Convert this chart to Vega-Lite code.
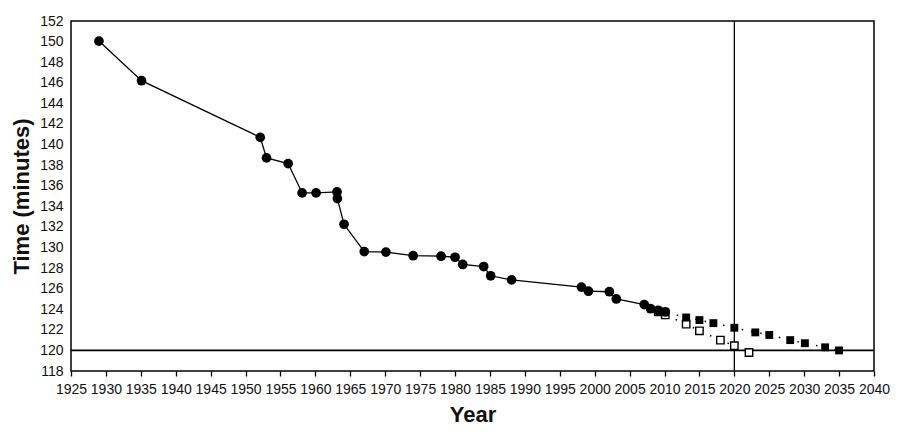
{
  "$schema": "https://vega.github.io/schema/vega-lite/v6.json",
  "width": 803,
  "height": 350,
  "autosize": {"type": "none"},
  "padding": {"left": 71, "top": 21, "right": 26, "bottom": 66},
  "background": "white",
  "datasets": {
    "record": [
      {"year": 1929.0, "time": 150.05},
      {"year": 1935.1, "time": 146.2},
      {"year": 1952.1, "time": 140.7},
      {"year": 1953.0, "time": 138.7},
      {"year": 1956.1, "time": 138.15},
      {"year": 1958.1, "time": 135.3},
      {"year": 1960.1, "time": 135.3},
      {"year": 1963.1, "time": 135.4},
      {"year": 1963.15, "time": 134.75},
      {"year": 1964.1, "time": 132.25},
      {"year": 1967.0, "time": 129.6},
      {"year": 1970.1, "time": 129.55},
      {"year": 1974.0, "time": 129.2},
      {"year": 1978.0, "time": 129.15},
      {"year": 1980.0, "time": 129.05},
      {"year": 1981.1, "time": 128.35},
      {"year": 1984.1, "time": 128.15},
      {"year": 1985.1, "time": 127.25},
      {"year": 1988.1, "time": 126.85},
      {"year": 1998.1, "time": 126.15},
      {"year": 1999.1, "time": 125.75},
      {"year": 2002.1, "time": 125.7},
      {"year": 2003.1, "time": 125.0},
      {"year": 2007.1, "time": 124.45},
      {"year": 2008.0, "time": 124.05},
      {"year": 2009.1, "time": 123.9},
      {"year": 2010.1, "time": 123.75}
    ],
    "projFilled": [
      {"year": 2009.1, "time": 123.85},
      {"year": 2010.1, "time": 123.7},
      {"year": 2013.1, "time": 123.2},
      {"year": 2015.0, "time": 122.95},
      {"year": 2017.0, "time": 122.65},
      {"year": 2020.0, "time": 122.2},
      {"year": 2023.0, "time": 121.75},
      {"year": 2025.0, "time": 121.5},
      {"year": 2028.0, "time": 121.0},
      {"year": 2030.1, "time": 120.7},
      {"year": 2033.0, "time": 120.3},
      {"year": 2035.0, "time": 120.0}
    ],
    "projOpen": [
      {"year": 2009.1, "time": 123.75},
      {"year": 2010.1, "time": 123.45},
      {"year": 2013.1, "time": 122.55},
      {"year": 2015.0, "time": 121.9},
      {"year": 2018.0, "time": 121.0},
      {"year": 2020.0, "time": 120.45},
      {"year": 2022.1, "time": 119.8}
    ],
    "refs": [
      {"year": 2020, "time": 120}
    ]
  },
  "encoding": {
    "x": {
      "field": "year",
      "type": "quantitative",
      "scale": {"domain": [1925, 2040], "nice": false, "zero": false},
      "axis": {
        "title": "Year",
        "values": [1925, 1930, 1935, 1940, 1945, 1950, 1955, 1960, 1965, 1970, 1975, 1980, 1985, 1990, 1995, 2000, 2005, 2010, 2015, 2020, 2025, 2030, 2035, 2040],
        "format": "d",
        "grid": false,
        "labelOverlap": false,
        "labelBound": false,
        "labelFlush": false,
        "tickSize": 5,
        "labelPadding": 6,
        "titlePadding": 8
      }
    },
    "y": {
      "field": "time",
      "type": "quantitative",
      "scale": {"domain": [118, 152], "nice": false, "zero": false},
      "axis": {
        "title": "Time (minutes)",
        "values": [118, 120, 122, 124, 126, 128, 130, 132, 134, 136, 138, 140, 142, 144, 146, 148, 150, 152],
        "grid": false,
        "labelOverlap": false,
        "tickSize": 0,
        "labelPadding": 8,
        "titlePadding": 6
      }
    }
  },
  "layer": [
    {
      "data": {"name": "refs"},
      "mark": {"type": "rule", "color": "black", "strokeWidth": 1.6},
      "encoding": {"x": {"value": 0}, "x2": {"value": 803}}
    },
    {
      "data": {"name": "refs"},
      "mark": {"type": "rule", "color": "black", "strokeWidth": 1.3},
      "encoding": {"y": {"value": 0}, "y2": {"value": 350}}
    },
    {
      "data": {"name": "projFilled"},
      "mark": {"type": "line", "color": "black", "strokeWidth": 1.5, "strokeDash": [1.5, 8]},
      "encoding": {}
    },
    {
      "data": {"name": "projOpen"},
      "mark": {"type": "line", "color": "black", "strokeWidth": 1.5, "strokeDash": [1.5, 8]},
      "encoding": {}
    },
    {
      "data": {"name": "record"},
      "mark": {"type": "line", "color": "black", "strokeWidth": 1.3},
      "encoding": {}
    },
    {
      "data": {"name": "projOpen"},
      "mark": {"type": "point", "shape": "square", "size": 55, "filled": true, "fill": "white", "stroke": "black", "strokeWidth": 1.4, "opacity": 1},
      "encoding": {}
    },
    {
      "data": {"name": "projFilled"},
      "mark": {"type": "point", "shape": "square", "size": 62, "filled": true, "color": "black", "opacity": 1},
      "encoding": {}
    },
    {
      "data": {"name": "record"},
      "mark": {"type": "point", "shape": "circle", "size": 95, "filled": true, "color": "black", "opacity": 1},
      "encoding": {}
    }
  ],
  "config": {
    "font": "Liberation Sans",
    "view": {"stroke": "black", "strokeWidth": 1.5},
    "axis": {
      "domain": false,
      "tickColor": "black",
      "tickWidth": 1.3,
      "labelFont": "Liberation Sans",
      "labelFontSize": 14,
      "labelColor": "#111",
      "titleFont": "Liberation Sans",
      "titleFontSize": 22,
      "titleFontWeight": "bold",
      "titleColor": "#111"
    }
  }
}
